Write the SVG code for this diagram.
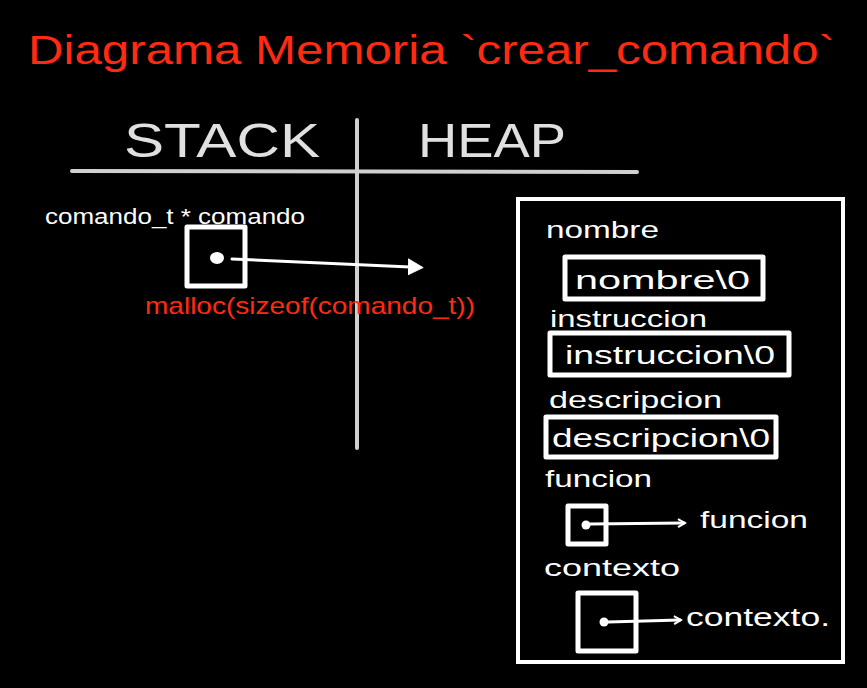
<svg xmlns="http://www.w3.org/2000/svg" width="867" height="688" viewBox="0 0 867 688">
<style>
.w{fill:#fff;font-family:"Liberation Sans",Arial,sans-serif;}
.r{fill:#ff2a12;font-family:"Liberation Sans",Arial,sans-serif;}
.box{fill:none;stroke:#fff;stroke-width:5;stroke-linejoin:round;}
.ln{stroke:#d0d0d0;stroke-width:4;stroke-linecap:round;}
.arr{stroke:#fff;stroke-width:3;fill:none;stroke-linecap:round;}
</style>
<defs>
<marker id="ah" markerWidth="16" markerHeight="18" refX="2" refY="9" orient="auto" markerUnits="userSpaceOnUse">
<path d="M0,1 L15,9 L0,17 Z" fill="#fff" stroke="#fff" stroke-width="1" stroke-linejoin="round"/>
</marker>
<marker id="ao" markerWidth="10" markerHeight="10" refX="7" refY="5" orient="auto" markerUnits="userSpaceOnUse">
<path d="M1,1 L8,5 L1,9" fill="none" stroke="#fff" stroke-width="2"/>
</marker>
</defs>
<rect width="867" height="688" fill="#000"/>
<text class="r" x="28" y="64" font-size="40" textLength="807" lengthAdjust="spacingAndGlyphs">Diagrama Memoria `crear_comando`</text>
<g id="divider">
<text x="124" y="157" font-size="48" fill="#e0e0e0" font-family="Liberation Sans,Arial,sans-serif" textLength="196" lengthAdjust="spacingAndGlyphs">STACK</text>
<text x="418" y="157" font-size="48" fill="#e0e0e0" font-family="Liberation Sans,Arial,sans-serif" textLength="148" lengthAdjust="spacingAndGlyphs">HEAP</text>
<line class="ln" x1="72" y1="171" x2="637" y2="172"/>
<line class="ln" x1="357" y1="120" x2="357" y2="448"/>
</g>
<g id="stack-comando">
<text class="w" x="45" y="224" font-size="22" textLength="260" lengthAdjust="spacingAndGlyphs">comando_t * comando</text>
<rect class="box" x="187" y="227" width="58" height="59"/>
<ellipse cx="217" cy="258" rx="7" ry="6" fill="#fff"/>
<text class="r" x="145" y="314" font-size="24" textLength="330" lengthAdjust="spacingAndGlyphs">malloc(sizeof(comando_t))</text>
</g>
<g id="heap-struct">
<rect x="518" y="199" width="325" height="463" fill="none" stroke="#fff" stroke-width="4"/>
<text class="w" x="546" y="238" font-size="24" textLength="113" lengthAdjust="spacingAndGlyphs">nombre</text>
<rect class="box" x="565" y="257" width="198" height="42"/>
<text class="w" x="575" y="289" font-size="26" textLength="175" lengthAdjust="spacingAndGlyphs">nombre\0</text>
<text class="w" x="550" y="327" font-size="24" textLength="157" lengthAdjust="spacingAndGlyphs">instruccion</text>
<rect class="box" x="550" y="333" width="239" height="42"/>
<text class="w" x="565" y="364" font-size="26" textLength="210" lengthAdjust="spacingAndGlyphs">instruccion\0</text>
<text class="w" x="549" y="408" font-size="24" textLength="173" lengthAdjust="spacingAndGlyphs">descripcion</text>
<rect class="box" x="546" y="417" width="230" height="40"/>
<text class="w" x="552" y="447" font-size="26" textLength="218" lengthAdjust="spacingAndGlyphs">descripcion\0</text>
<text class="w" x="545" y="487" font-size="24" textLength="107" lengthAdjust="spacingAndGlyphs">funcion</text>
<rect class="box" x="568" y="506" width="38" height="38"/>
<circle cx="586" cy="525" r="4.5" fill="#fff"/>
<text class="w" x="700" y="528" font-size="24" textLength="108" lengthAdjust="spacingAndGlyphs">funcion</text>
<text class="w" x="544" y="576" font-size="24" textLength="136" lengthAdjust="spacingAndGlyphs">contexto</text>
<rect class="box" x="578" y="593" width="58" height="58"/>
<circle cx="604" cy="622" r="4.5" fill="#fff"/>
<text class="w" x="686" y="626" font-size="26" textLength="144" lengthAdjust="spacingAndGlyphs">contexto.</text>
</g>
<g id="connectors">
<line class="arr" x1="232" y1="259" x2="410" y2="267" stroke-width="5" marker-end="url(#ah)"/>
<line class="arr" x1="590" y1="524" x2="684" y2="523" stroke-width="2.5" marker-end="url(#ao)"/>
<line class="arr" x1="608" y1="622" x2="680" y2="620" stroke-width="2.5" marker-end="url(#ao)"/>
</g>
</svg>
